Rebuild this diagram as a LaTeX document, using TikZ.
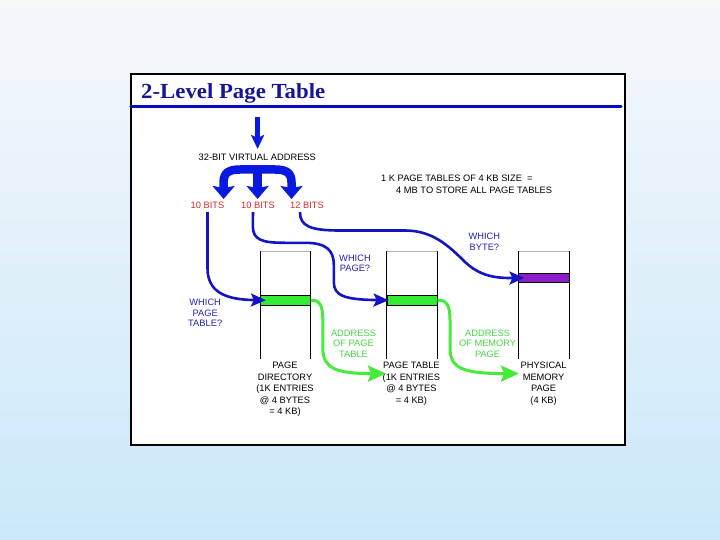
\documentclass[tikz,border=0pt]{standalone}
\usepackage{fontspec}
\setmainfont{Liberation Sans}
\newfontfamily\titlefont[FakeStretch=1.06]{Liberation Serif}
\usetikzlibrary{arrows.meta}
\definecolor{bgtop}{RGB}{246,248,250}
\definecolor{bgbot}{RGB}{202,232,250}
\definecolor{titleblue}{RGB}{22,22,150}
\definecolor{lineblue}{RGB}{10,10,190}
\definecolor{arrblue}{RGB}{10,25,225}
\definecolor{curveblue}{RGB}{20,20,195}
\definecolor{lblblue}{RGB}{35,35,175}
\definecolor{bitred}{RGB}{220,40,40}
\definecolor{grband}{RGB}{50,235,50}
\definecolor{grline}{RGB}{70,235,60}
\definecolor{grtxt}{RGB}{70,215,70}
\definecolor{purp}{RGB}{140,30,200}
\begin{document}
\begin{tikzpicture}[x=1pt,y=-1pt,
  txt/.style={font=\fontsize{9.3}{10.7}\selectfont, inner sep=0pt, align=center},
  coltxt/.style={font=\fontsize{9.3}{11.5}\selectfont, inner sep=0pt, align=center},
  col/.style={minimum width=50.1pt, minimum height=107.6pt, inner sep=0pt},
  band/.style={draw=black, line width=0.8pt, minimum width=50.1pt, minimum height=9.5pt, inner sep=0pt},
  fat/.style={draw=arrblue, line width=8.5pt, -{Stealth[width=22pt,length=13pt,inset=2pt]}},
  bcurve/.style={draw=curveblue, line width=2.6pt, -{Stealth[width=13pt,length=15pt,inset=3pt]}},
  gcurve/.style={draw=grline, line width=3pt, -{Stealth[width=16pt,length=18pt,inset=3pt]}}
]
\useasboundingbox (0,0) rectangle (720,540);
\shade[top color=bgtop, bottom color=bgtop!50!bgbot] (0,0) rectangle (720,270);
\shade[top color=bgtop!50!bgbot, bottom color=bgbot] (0,270) rectangle (720,540);

% frame
\node[draw=black, line width=2pt, fill=white, minimum width=494pt, minimum height=371pt, inner sep=0pt] (frame) at (378,259.5) {};
\node[anchor=base west, inner sep=0pt, text=titleblue, font=\titlefont\bfseries\fontsize{21.5}{21.5}\selectfont] (title) at (141,98.5) {2-Level Page Table};
\coordinate (ulA) at (131,106.5);
\coordinate (ulB) at (621,106.5);
\draw[lineblue, line width=3.2pt, line cap=round] (ulA) -- (ulB);

% virtual address
\coordinate (vtop) at (257.6,117);
\node[txt] (vaddr) at (257.3,157) {32-BIT VIRTUAL ADDRESS};
\draw[draw=arrblue, line width=5pt, -{Stealth[width=13pt,length=14pt,inset=3pt]}] (vtop) -- (257.6,149);

\node[txt, text=bitred] (bits1) at (207.5,205.6) {10 BITS};
\node[txt, text=bitred] (bits2) at (258,205.6) {10 BITS};
\node[txt, text=bitred] (bits3) at (307,205.6) {12 BITS};

\coordinate (tipL) at (223.6,199);
\coordinate (tipM) at (257.6,199);
\coordinate (tipR) at (291.5,199);
\draw[fat] (257.6,166) -- (tipM);
\draw[fat, {Stealth[width=22pt,length=13pt,inset=2pt]}-{Stealth[width=22pt,length=13pt,inset=2pt]}]
  (tipL) -- (223.6,182) .. controls (223.6,172) and (230,169.5) .. (240,169.5) -- (275,169.5)
  .. controls (285,169.5) and (291.5,172) .. (291.5,182) -- (tipR);

% note
\node[txt, anchor=west] (note1) at (381,178) {1 K PAGE TABLES OF 4 KB SIZE \ =};
\node[txt, anchor=west] (note2) at (396,190) {4 MB TO STORE ALL PAGE TABLES};

% columns
\node[col] (pd) at (285.35,305.2) {};
\node[col] (pt) at (412.05,305.2) {};
\node[col] (pm) at (543.85,305.2) {};
\foreach \c in {pd,pt,pm}{
  \draw[gray!60, line width=0.7pt] (\c.north west) -- (\c.north east);
  \draw[black, line width=1pt] (\c.north west) -- (\c.south west);
  \draw[black, line width=1pt] (\c.north east) -- (\c.south east);
}
\node[band, fill=grband] (pdE) at (285.35,300.25) {};
\node[band, fill=grband] (ptE) at (412.05,300.25) {};
\node[band, fill=purp] (pmE) at (543.85,277.9) {};

% labels
\node[txt, text=lblblue] (wpt) at (205.2,313) {WHICH\\PAGE\\TABLE?};
\node[txt, text=lblblue] (wp) at (355,263.3) {WHICH\\PAGE?};
\node[txt, text=lblblue] (wb) at (484.4,242) {WHICH\\BYTE?};
\node[txt, text=grtxt] (apt) at (353.5,343.7) {ADDRESS\\OF PAGE\\TABLE};
\node[txt, text=grtxt] (amp) at (487.6,343.7) {ADDRESS\\OF MEMORY\\PAGE};
\node[coltxt] (pdl) at (285,389.5) {PAGE\\DIRECTORY\\(1K ENTRIES\\@ 4 BYTES\\= 4 KB)};
\node[coltxt] (ptl) at (411.4,383.8) {PAGE TABLE\\(1K ENTRIES\\@ 4 BYTES\\= 4 KB)};
\node[coltxt] (pml) at (543.6,383.8) {PHYSICAL\\MEMORY\\PAGE\\(4 KB)};

% blue curves
\draw[bcurve] (bits1.south) ++(0,3) -- (207.5,268)
  .. controls (207.5,292) and (225,299.6) .. ([xshift=6pt]pdE.west);
\draw[bcurve] (bits2.south) ++(-5,3) -- (252.8,226)
  .. controls (252.8,240) and (262,242.8) .. (285,242.8) -- (305,242.8)
  .. controls (326,242.8) and (333.8,250) .. (333.8,265) -- (333.8,282)
  .. controls (333.8,296) and (345,299.6) .. ([xshift=2pt]ptE.west);
\draw[bcurve] (bits3.south) ++(-7,3) .. controls (300,226) and (310,230.5) .. (340,230.5) -- (405,230.5)
  .. controls (432,230.5) and (448,245) .. (465,262)
  .. controls (480,276) and (495,278.2) .. ([xshift=6pt]pmE.west);

% green curves
\coordinate (gEnd1) at (386,373.6);
\coordinate (gEnd2) at (519,373.6);
\draw[gcurve] (pdE.east) .. controls (320,299.6) and (322.8,306) .. (322.8,320) -- (322.8,348)
  .. controls (322.8,368) and (335,373.6) .. (gEnd1);
\draw[gcurve] (ptE.east) .. controls (447,299.6) and (450,306) .. (450,320) -- (450,348)
  .. controls (450,368) and (462,373.6) .. (gEnd2);
\end{tikzpicture}
\end{document}
